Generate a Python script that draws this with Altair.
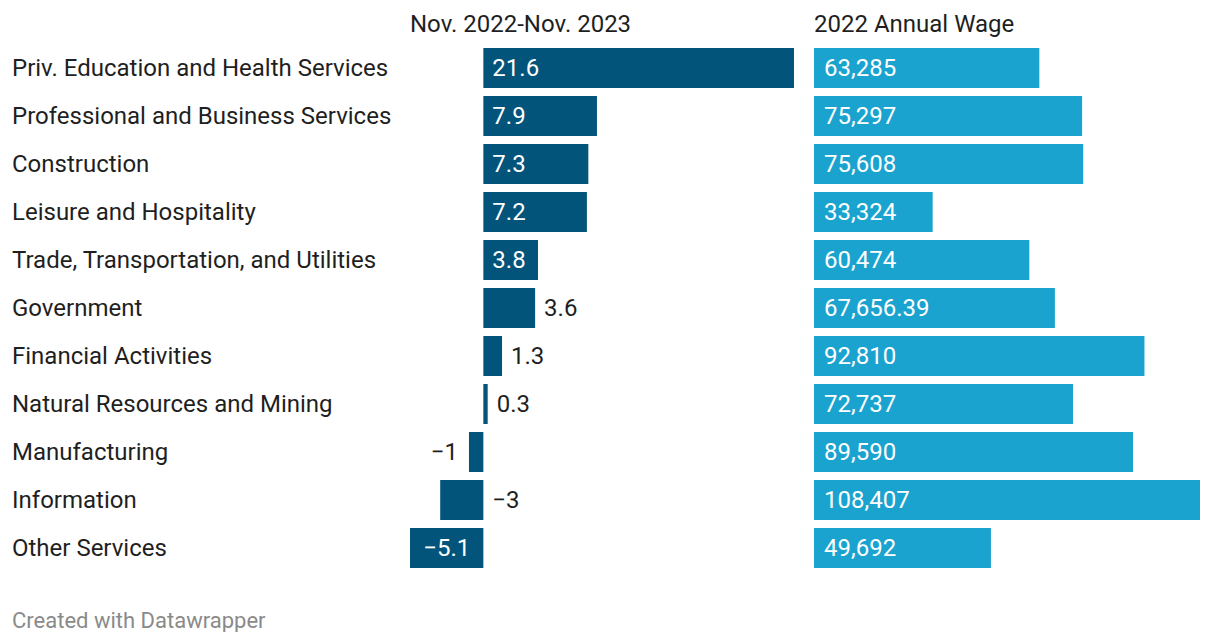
import altair as alt
import pandas as pd

categories = [
    "Priv. Education and Health Services",
    "Professional and Business Services",
    "Construction",
    "Leisure and Hospitality",
    "Trade, Transportation, and Utilities",
    "Government",
    "Financial Activities",
    "Natural Resources and Mining",
    "Manufacturing",
    "Information",
    "Other Services",
]
change_pct = [21.6, 7.9, 7.3, 7.2, 3.8, 3.6, 1.3, 0.3, -1, -3, -5.1]
annual_wage = [63285, 75297, 75608, 33324, 60474, 67656.39, 92810, 72737, 89590, 108407, 49692]

header_left = "Nov. 2022-Nov. 2023"
header_right = "2022 Annual Wage"
footer = "Created with Datawrapper"

DARK = "#02547a"
LIGHT = "#1aa3cf"
TEXT = "#1f1f1f"
FONT = "Roboto"
FS = 24


def placement(v):
    if v >= 3.7:
        return "in_pos"
    if v > 0:
        return "out_pos"
    if v <= -5:
        return "in_neg"
    if v > -2:
        return "out_neg"
    return "zero_right"


df = pd.DataFrame({
    "cat": categories,
    "change": change_pct,
    "wage": annual_wage,
})
df["zero"] = 0.0
df["place"] = [placement(v) for v in change_pct]

W, H = 1190, 528
ybase = alt.Y("cat:N", sort=categories, axis=None,
              scale=alt.Scale(paddingInner=1/6, paddingOuter=1/12))

xl_scale = alt.Scale(domain=[min(change_pct), max(change_pct)], range=[398, 782], nice=False, zero=True)
xr_scale = alt.Scale(domain=[0, max(annual_wage)], range=[802, 1188], nice=False, zero=True)

base = alt.Chart(df)

cat_labels = base.mark_text(align="left", baseline="middle", dy=1, font=FONT, fontSize=FS, color=TEXT).encode(
    x=alt.value(0), y=ybase, text="cat:N")

bars_l = base.mark_bar(color=DARK).encode(
    x=alt.X("change:Q", scale=xl_scale, axis=None),
    x2="zero:Q",
    y=ybase,
)

def lbl(place, align, dx, color, field, scale, fmt):
    return base.transform_filter(alt.datum.place == place).mark_text(
        align=align, baseline="middle", dx=dx, dy=1, font=FONT, fontSize=FS, color=color
    ).encode(
        x=alt.X(f"{field}:Q", scale=scale, axis=None),
        y=ybase,
        text=alt.Text("change:Q", format=fmt),
    )

fmt_l = ".1~f"
l1 = lbl("in_pos", "left", 9, "white", "zero", xl_scale, fmt_l)
l2 = lbl("out_pos", "left", 9, TEXT, "change", xl_scale, fmt_l)
l3 = lbl("in_neg", "right", -13, "white", "zero", xl_scale, fmt_l)
l4 = lbl("out_neg", "right", -11, TEXT, "change", xl_scale, fmt_l)
l5 = lbl("zero_right", "left", 9, TEXT, "zero", xl_scale, fmt_l)

bars_r = alt.Chart(df).mark_bar(color=LIGHT).encode(
    x=alt.X("wage:Q", scale=xr_scale, axis=None),
    x2=alt.X2("zero:Q"),
    y=ybase,
)
lbl_r = alt.Chart(df).mark_text(align="left", baseline="middle", dx=10, dy=1, font=FONT, fontSize=FS, color="white").encode(
    x=alt.X("zero:Q", scale=xr_scale, axis=None),
    y=ybase,
    text=alt.Text("wage:Q", format=",.2~f"),
)

hdr_l = alt.Chart(pd.DataFrame({"t": [header_left], "zero": [min(change_pct)]})).mark_text(
    align="left", baseline="middle", font=FONT, fontSize=FS, color=TEXT).encode(
    x=alt.X("zero:Q", scale=xl_scale, axis=None), y=alt.value(-19), text="t:N")
hdr_r = alt.Chart(pd.DataFrame({"t": [header_right], "zero": [0]})).mark_text(
    align="left", baseline="middle", font=FONT, fontSize=FS, color=TEXT).encode(
    x=alt.X("zero:Q", scale=xr_scale, axis=None), y=alt.value(-19), text="t:N")

foot = alt.Chart(pd.DataFrame({"t": [footer]})).mark_text(
    align="left", baseline="middle", font=FONT, fontSize=22, color="#8a8a8a").encode(
    x=alt.value(0), y=alt.value(577), text="t:N")

left_layer = alt.layer(bars_l, l1, l2, l3, l4, l5, hdr_l)
right_layer = alt.layer(bars_r, lbl_r, hdr_r)

chart = alt.layer(cat_labels, left_layer, right_layer, foot).resolve_scale(x="independent").properties(
    width=W, height=H,
    autosize=alt.AutoSizeParams(type="none"),
    padding={"left": 4, "top": 36, "right": 10, "bottom": 60},
).configure_view(stroke=None)

chart.save("out.html", embed_options={"renderer": "svg", "actions": False})
